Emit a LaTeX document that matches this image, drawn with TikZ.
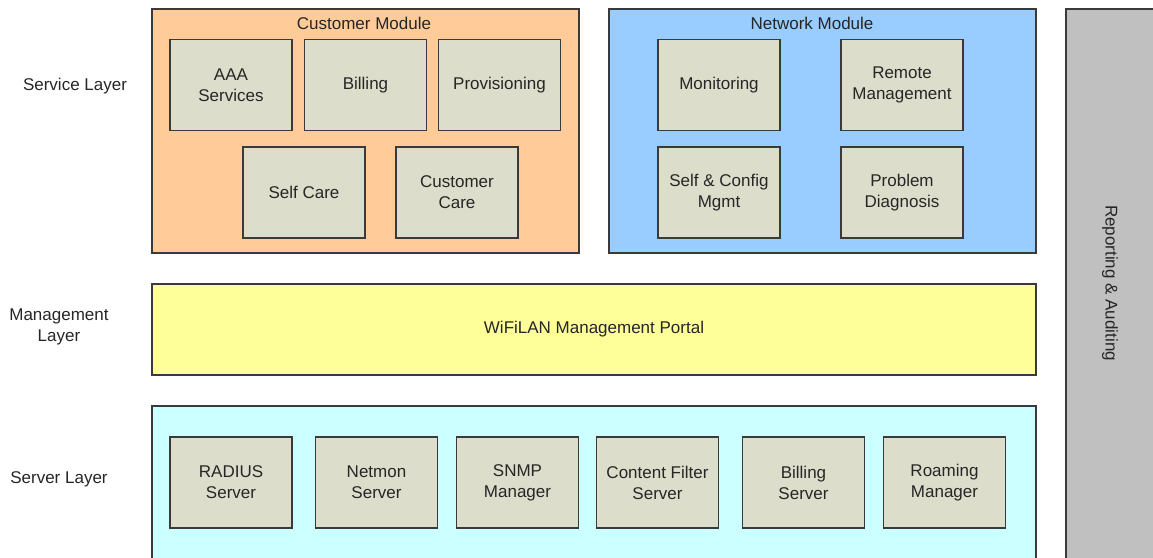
\documentclass[tikz,border=0pt]{standalone}
\usepackage{fontspec}
\setmainfont{Liberation Sans}
\usepackage{xcolor}
\usetikzlibrary{positioning}
\definecolor{custfill}{HTML}{FFCC99}
\definecolor{netfill}{HTML}{99CCFF}
\definecolor{mgmtfill}{HTML}{FFFF99}
\definecolor{servfill}{HTML}{CCFFFF}
\definecolor{itemfill}{HTML}{DDDDCB}
\definecolor{repfill}{HTML}{C0C0C0}
\definecolor{edgegray}{HTML}{3A3A3A}
\definecolor{textgray}{HTML}{262626}

\begin{document}
\begin{tikzpicture}[x=1pt, y=-1pt, font=\fontsize{17}{21}\selectfont, text=textgray,
  item/.style={draw=edgegray, fill=itemfill, line width=1.5pt, minimum width=122pt, minimum height=91pt, inner sep=0pt, align=center},
  module/.style={draw=edgegray, line width=1.5pt, minimum width=427pt, minimum height=244pt, inner sep=0pt},
  layerlbl/.style={align=center, inner sep=0pt}]
\useasboundingbox (0,0) rectangle (1153,557);
\clip (0,0) rectangle (1153,557);

\draw[fill=repfill, draw=edgegray, line width=1.5pt] (1066,9) rectangle (1170,570);
\node[rotate=-90, inner sep=0pt] (rep) at (1110,283) {Reporting \& Auditing};

\node[module, fill=custfill] (cust) at (365.5,131) {};
\node[module, fill=netfill] (net) at (822.5,131) {};
\node[inner sep=0pt] (custttl) at (364,23) {Customer Module};
\node[inner sep=0pt] (netttl) at (812,23) {Network Module};

\node[item] (aaa) at (231,85) {AAA\\Services};
\node[item] (bill) at (365.5,85) {Billing};
\node[item] (prov) at (499.5,85) {Provisioning};
\node[item] (self) at (304,192.5) {Self Care};
\node[item] (ccare) at (457,192.5) {Customer\\Care};

\node[item] (mon) at (719,85) {Monitoring};
\node[item] (remote) at (902,85) {Remote\\Management};
\node[item] (config) at (719,192.5) {Self \& Config\\Mgmt};
\node[item] (diag) at (902,192.5) {Problem\\Diagnosis};

\node[draw=edgegray, fill=mgmtfill, line width=1.5pt, minimum width=884pt, minimum height=91pt, inner sep=0pt] (portal) at (594,329.5) {WiFiLAN Management Portal};

\draw[fill=servfill, draw=edgegray, line width=1.5pt] (152,406) rectangle (1036,575);
\node[item] (radius) at (231,482.5) {RADIUS\\Server};
\node[item] (netmon) at (376.5,482.5) {Netmon\\Server};
\node[item] (snmp) at (517.5,482.5) {SNMP\\Manager};
\node[item] (filter) at (657.5,482.5) {Content Filter\\Server};
\node[item] (bsrv) at (803.5,482.5) {Billing\\Server};
\node[item] (roam) at (944.5,482.5) {Roaming\\Manager};

\node[layerlbl] (svc) at (75,86) {Service Layer};
\node[layerlbl] (mgmt) at (59,327) {Management\\Layer};
\node[layerlbl] (srv) at (59,479) {Server Layer};
\end{tikzpicture}
\end{document}
